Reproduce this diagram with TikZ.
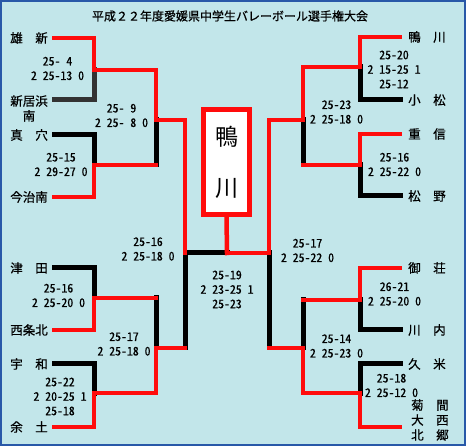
\documentclass[tikz,border=0pt]{standalone}
\usepackage{fontspec}
\setmainfont[FakeBold=0.6]{Noto Sans CJK JP}
\newfontfamily\scorefont[CharacterWidth=Half,FakeBold=0.6]{Noto Sans CJK JP}
\newfontfamily\plainfont{Noto Sans CJK JP}
\usetikzlibrary{positioning}
\definecolor{bgblue}{RGB}{194,230,234}
\definecolor{frameblue}{RGB}{40,88,168}
\definecolor{winred}{RGB}{255,12,12}
\newcommand\gp{\phantom{0}}

\begin{document}
\begin{tikzpicture}[x=1pt,y=-1pt,
  win/.style={draw=winred,line width=4.5pt,line cap=rect},
  lose/.style={draw=black,line width=5pt,line cap=rect},
  team/.style={inner sep=0pt,font=\fontsize{12.5}{15}\selectfont,align=center},
  score/.style={inner sep=0pt,font=\scorefont\fontsize{11.8}{14.5}\selectfont,align=center}]
  \useasboundingbox (0,0) rectangle (466,446);
  \fill[bgblue] (0,0) rectangle (466,446);
  \draw[frameblue,line width=2pt] (1,1) rectangle (465,445);

  \node[team,font=\fontsize{12}{14}\selectfont] (title) at (230,16) {平成２２年度愛媛県中学生バレーボール選手権大会};

  % left half
  \coordinate (a1) at (54,38);  \coordinate (a2) at (54,100);
  \coordinate (a3) at (54,135); \coordinate (a4) at (54,197);
  \coordinate (a5) at (54,268); \coordinate (a6) at (54,330);
  \coordinate (a7) at (54,364); \coordinate (a8) at (54,427);
  \coordinate (p1) at (94,70);  \coordinate (p2) at (94,165);
  \coordinate (p3) at (94,298); \coordinate (p4) at (94,393);
  \coordinate (q1) at (156,120); \coordinate (q2) at (156,348);
  \coordinate (f1) at (185,253);
  % right half
  \coordinate (b1) at (400,37);  \coordinate (b2) at (400,100);
  \coordinate (b3) at (400,134); \coordinate (b4) at (400,196);
  \coordinate (b5) at (400,268); \coordinate (b6) at (400,330);
  \coordinate (b7) at (400,364); \coordinate (b8) at (400,427);
  \coordinate (r1) at (360,67);  \coordinate (r2) at (360,165);
  \coordinate (r3) at (360,300); \coordinate (r4) at (360,393);
  \coordinate (u1) at (303,120); \coordinate (u2) at (303,348);
  \coordinate (f2) at (269,253);
  \coordinate (c) at (227,253);

  \node[team,left=6pt of a1] (t1) {雄　新};
  \node[team,left=6pt of a2,yshift=-8.5pt] (t2) {新居浜\\南};
  \node[team,left=6pt of a3] (t3) {真　穴};
  \node[team,left=6pt of a4] (t4) {今治南};
  \node[team,left=6pt of a5] (t5) {津　田};
  \node[team,left=6pt of a6] (t6) {西条北};
  \node[team,left=6pt of a7] (t7) {宇　和};
  \node[team,left=6pt of a8] (t8) {余　土};
  \node[team,right=8pt of b1] (t9) {鴨　川};
  \node[team,right=8pt of b2] (t10) {小　松};
  \node[team,right=8pt of b3] (t11) {重　信};
  \node[team,right=8pt of b4] (t12) {松　野};
  \node[team,right=8pt of b5] (t13) {御　荘};
  \node[team,right=8pt of b6] (t14) {川　内};
  \node[team,right=8pt of b7] (t15) {久　米};
  \node[team,right=11pt of b8,yshift=7pt] (t16) {菊　間\\大　西\\北　郷};

  \draw[lose,draw=black!80] (a2) -| (p1);
  \draw[lose] (a3) -| (p2);
  \draw[lose] (a5) -| (p3);
  \draw[lose] (a7) -| (p4);
  \draw[lose] (q1) -- (q1 |- p2);
  \draw[lose] (q2) -- (q2 |- p3);
  \draw[lose] (f1) -- (f1 |- q2);
  \draw[lose] (f1) -- (c);
  \draw[lose] (b2) -| (r1);
  \draw[lose] (b4) -| (r2);
  \draw[lose] (b6) -| (r3);
  \draw[lose] (b7) -| (r4);
  \draw[lose] (u1) -- (u1 |- r2);
  \draw[lose] (u2) -- (u2 |- r3);
  \draw[lose] (f2) -- (f2 |- u2);

  \draw[win] (a1) -| (p1) -- (p1 -| q1) -- (q1) -- (q1 -| f1) -- (f1);
  \draw[win] (a4) -| (p2) -- (p2 -| q1);
  \draw[win] (a6) -| (p3) -- (p3 -| q2);
  \draw[win] (a8) -| (p4) -- (p4 -| q2) -- (q2) -- (q2 -| f1);
  \draw[win] (b1) -| (r1) -- (r1 -| u1) -- (u1) -- (u1 -| f2) -- (f2) -- (c);
  \draw[win] (b3) -| (r2) -- (r2 -| u1);
  \draw[win] (b5) -| (r3) -- (r3 -| u2);
  \draw[win] (b8) -| (r4) -- (r4 -| u2) -- (u2) -- (u2 -| f2);

  \node[draw=winred,line width=5pt,fill=white,minimum width=46pt,minimum height=105pt,
    inner sep=0pt,align=center,font=\plainfont\fontsize{23}{51}\selectfont] (champ) at (226.5,162) {鴨\\川};
  \draw[win] (champ.south) -- (c);

  \node[score] (s1) at (57.5,68.5) {25-\gp4\\2\gp25-13\gp0};
  \node[score] (s2) at (61,164.5) {25-15\\2\gp29-27\gp0};
  \node[score] (s3) at (121.5,115.5) {25-\gp9\\2\gp25-\gp8\gp0};
  \node[score] (s4) at (148,249) {25-16\\2\gp25-18\gp0};
  \node[score] (s5) at (58.5,295.5) {25-16\\2\gp25-20\gp0};
  \node[score] (s6) at (124,344) {25-17\\2\gp25-18\gp0};
  \node[score] (s7) at (60,396.5) {25-22\\2\gp20-25\gp1\\25-18};
  \node[score] (s8) at (227,289.5) {25-19\\2\gp23-25\gp1\\25-23};
  \node[score] (s9) at (394,69.5) {25-20\\2\gp15-25\gp1\\25-12};
  \node[score] (s10) at (336.5,112) {25-23\\2\gp25-18\gp0};
  \node[score] (s11) at (394.5,164.5) {25-16\\2\gp25-22\gp0};
  \node[score] (s12) at (307.5,250.5) {25-17\\2\gp25-22\gp0};
  \node[score] (s13) at (394.5,294) {26-21\\2\gp25-20\gp0};
  \node[score] (s14) at (336.5,346) {25-14\\2\gp25-23\gp0};
  \node[score] (s15) at (391.5,385.5) {25-18\\2\gp25-12\gp0};
\end{tikzpicture}
\end{document}
